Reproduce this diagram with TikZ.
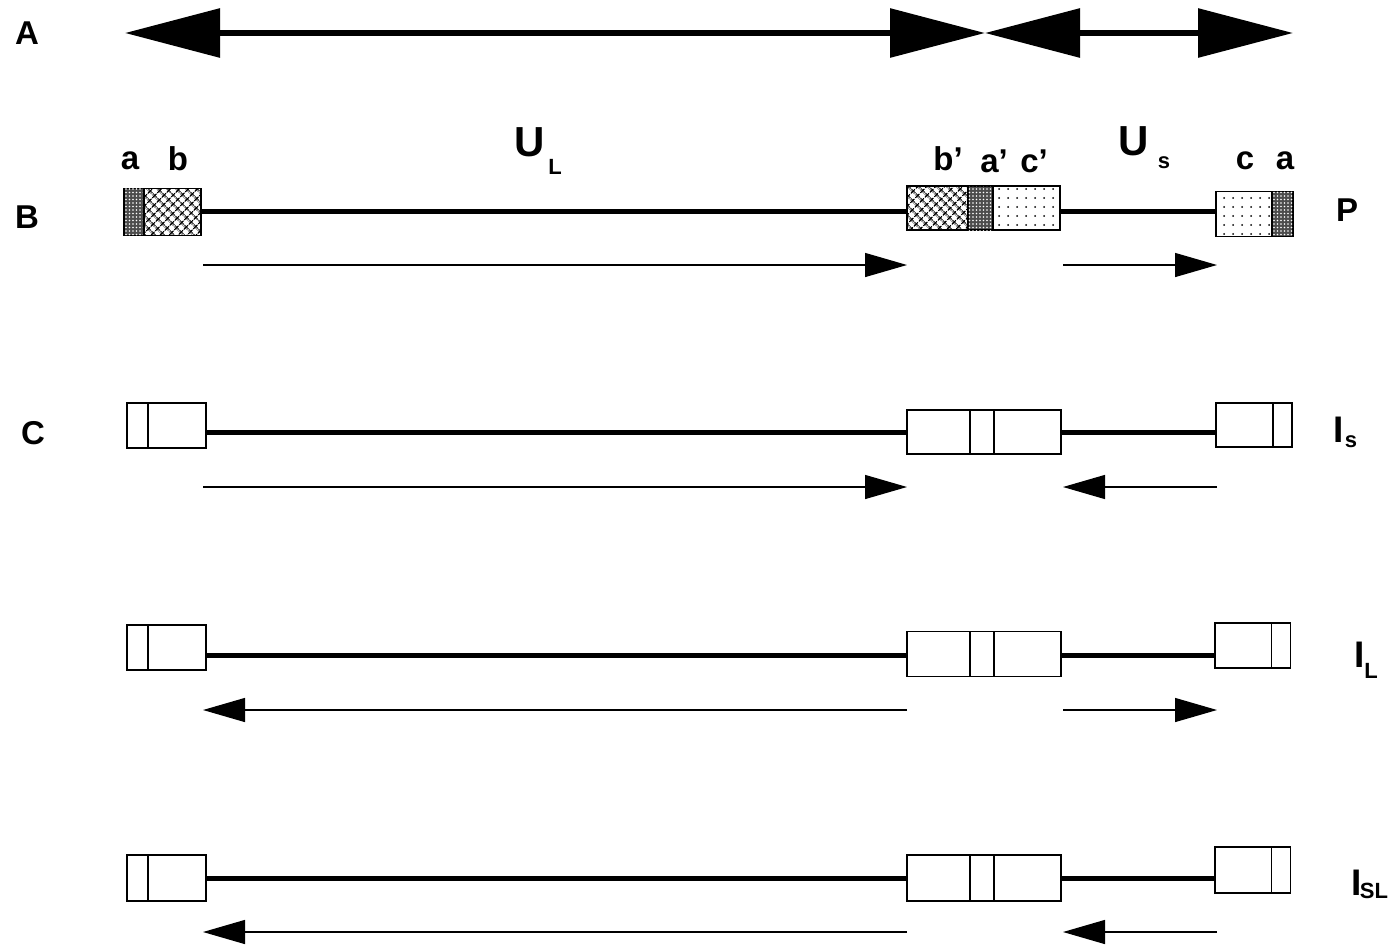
\documentclass[tikz,border=0pt]{standalone}
\usepackage{fontspec}
\setmainfont{Liberation Sans}
\usetikzlibrary{arrows.meta,patterns.meta}
\tikzset{
  seg/.style={draw, line width=1.5pt, inner sep=0pt, outer sep=0pt, fill=white},
  strand/.style={line width=5pt},
  orient/.style={line width=1.3pt, -{Triangle[length=42pt,width=24pt]}},
  repeat/.style={line width=6pt, {Triangle[length=95pt,width=48pt]}-{Triangle[length=95pt,width=48pt]}},
  lbl/.style={font=\fontsize{33}{38}\selectfont\bfseries, inner sep=0pt},
  big/.style={font=\fontsize{42}{46}\selectfont\bfseries, inner sep=0pt},
  sub/.style={font=\fontsize{22}{25}\selectfont\bfseries, inner sep=0pt},
  tall/.style={font=\fontsize{37}{40}\selectfont\bfseries, inner sep=0pt},
  hatchb/.style={pattern={Hatch[angle=45,distance=6.5pt,line width=1.5pt]}},
  dotsc/.style={pattern={Dots[distance=9pt,radius=1pt]}},
  densea/.style={fill=black!70, postaction={pattern={Dots[distance=3.5pt,radius=0.8pt]}, pattern color=white}}
}
\begin{document}
\begin{tikzpicture}[x=1pt,y=-1pt]
\useasboundingbox (0,0) rectangle (1389,945);
% ---------- Row A ----------
\node[lbl] (lA) at (27,33) {A};
\coordinate (A1) at (125,33);
\coordinate (A2) at (985,33);
\coordinate (A3) at (1293,33);
\draw[repeat] (A1) -- (A2);
\draw[repeat] (A2) -- (A3);
% ---------- Row B ----------
\node[lbl] (lB) at (27,217) {B};
\node[seg, densea, minimum width=20pt, minimum height=47pt] (Ba) at (134,212) {};
\node[seg, hatchb, minimum width=57pt, minimum height=47pt] (Bb) at (172.5,212) {};
\node[seg, hatchb, minimum width=61pt, minimum height=44pt] (Bbp) at (937.5,208) {};
\node[seg, densea, minimum width=25pt, minimum height=44pt] (Bap) at (980.5,208) {};
\node[seg, dotsc, minimum width=67pt, minimum height=44pt] (Bcp) at (1026.5,208) {};
\node[seg, dotsc, minimum width=56pt, minimum height=45pt] (Bc) at (1244,214) {};
\node[seg, densea, minimum width=21pt, minimum height=45pt] (Ba2) at (1282.5,214) {};
\draw[strand] (Bb.east |- 0,211) coordinate (Bs1) -- (Bbp.west |- 0,211) coordinate (Bs2);
\draw[strand] (Bcp.east |- 0,211) coordinate (Bs3) -- (Bc.west |- 0,211) coordinate (Bs4);
\node[lbl] (ta) at (130,161) {a};
\node[lbl] (tb) at (178,159) {b};
\node[big] (tUL) at (530,142) {U};
\node[sub] (tULs) at (555,167) {L};
\node[lbl] (tbp) at (948,159) {b’};
\node[lbl] (tap) at (994,161) {a’};
\node[lbl] (tcp) at (1034,161) {c’};
\node[big] (tUS) at (1134,141) {U};
\node[sub] (tUSs) at (1164,163) {s};
\node[lbl] (tc) at (1245,161) {c};
\node[lbl] (ta2) at (1285,161) {a};
\node[lbl] (tP) at (1347,210) {P};
\coordinate (Bo1) at (203,265);
\coordinate (Bo2) at (907,265);
\coordinate (Bo3) at (1063,265);
\coordinate (Bo4) at (1217,265);
\draw[orient] (Bo1) -- (Bo2);
\draw[orient] (Bo3) -- (Bo4);
% ---------- Row C (I_S) ----------
\node[lbl] (lC) at (33,433) {C};
\node[seg, minimum width=21pt, minimum height=45pt] (C1a) at (137.5,425.5) {};
\node[seg, minimum width=58pt, minimum height=45pt] (C1b) at (177,425.5) {};
\node[seg, minimum width=63pt, minimum height=44pt] (C2b) at (938.5,432) {};
\node[seg, minimum width=24pt, minimum height=44pt] (C2a) at (982,432) {};
\node[seg, minimum width=67pt, minimum height=44pt] (C2c) at (1027.5,432) {};
\node[seg, minimum width=57pt, minimum height=44pt] (C3c) at (1244.5,425) {};
\node[seg, minimum width=19pt, minimum height=44pt] (C3a) at (1282.5,425) {};
\draw[strand] (C1b.east |- 0,432) -- (C2b.west |- 0,432);
\draw[strand] (C2c.east |- 0,432) -- (C3c.west |- 0,432);
\node[tall] (tIS) at (1339,430) {I};
\node[sub] (tISs) at (1351,442) {s};
\coordinate (Co1) at (203,487);
\coordinate (Co2) at (907,487);
\coordinate (Co3) at (1063,487);
\coordinate (Co4) at (1217,487);
\draw[orient] (Co1) -- (Co2);
\draw[orient] (Co4) -- (Co3);
% ---------- Row I_L ----------
\node[seg, minimum width=21pt, minimum height=45pt] (L1a) at (137.5,647.5) {};
\node[seg, minimum width=58pt, minimum height=45pt] (L1b) at (177,647.5) {};
\node[seg, minimum width=63pt, minimum height=45pt] (L2b) at (938.5,654) {};
\node[seg, minimum width=24pt, minimum height=45pt] (L2a) at (982,654) {};
\node[seg, minimum width=67pt, minimum height=45pt] (L2c) at (1027.5,654) {};
\node[seg, minimum width=57pt, minimum height=45pt] (L3c) at (1243.5,645.5) {};
\node[seg, minimum width=19pt, minimum height=45pt] (L3a) at (1281,645.5) {};
\draw[strand] (L1b.east |- 0,655) -- (L2b.west |- 0,655);
\draw[strand] (L2c.east |- 0,655) -- (L3c.west |- 0,655);
\node[tall] (tIL) at (1360,655) {I};
\node[sub] (tILs) at (1371,671) {L};
\coordinate (Lo1) at (203,710);
\coordinate (Lo2) at (907,710);
\coordinate (Lo3) at (1063,710);
\coordinate (Lo4) at (1217,710);
\draw[orient] (Lo2) -- (Lo1);
\draw[orient] (Lo3) -- (Lo4);
% ---------- Row I_SL ----------
\node[seg, minimum width=21pt, minimum height=46pt] (S1a) at (137.5,878) {};
\node[seg, minimum width=58pt, minimum height=46pt] (S1b) at (177,878) {};
\node[seg, minimum width=63pt, minimum height=46pt] (S2b) at (938.5,878) {};
\node[seg, minimum width=24pt, minimum height=46pt] (S2a) at (982,878) {};
\node[seg, minimum width=67pt, minimum height=46pt] (S2c) at (1027.5,878) {};
\node[seg, minimum width=57pt, minimum height=46pt] (S3c) at (1243.5,870) {};
\node[seg, minimum width=19pt, minimum height=46pt] (S3a) at (1281,870) {};
\draw[strand] (S1b.east |- 0,878) -- (S2b.west |- 0,878);
\draw[strand] (S2c.east |- 0,878) -- (S3c.west |- 0,878);
\node[tall] (tISL) at (1357,883) {I};
\node[sub] (tISLs) at (1374,891) {SL};
\coordinate (So1) at (203,932);
\coordinate (So2) at (907,932);
\coordinate (So3) at (1063,932);
\coordinate (So4) at (1217,932);
\draw[orient] (So2) -- (So1);
\draw[orient] (So4) -- (So3);
\end{tikzpicture}
\end{document}
